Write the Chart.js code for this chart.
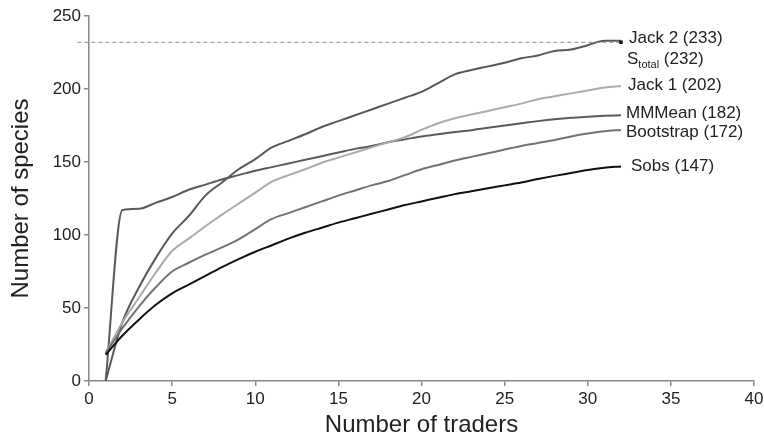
<!DOCTYPE html>
<html><head><meta charset="utf-8">
<script src="https://cdn.jsdelivr.net/npm/chart.js@4"></script>
<style>html,body{margin:0;padding:0;background:#fff}#wrap{width:764px;height:445px}</style>
</head><body><div id="wrap"><canvas id="c" width="764" height="445"></canvas></div>
<script>
// ---- data ----
const traders = [1,2,3,4,5,6,7,8,9,10,11,12,13,14,15,16,17,18,19,20,21,22,23,24,25,26,27,28,29,30,31,32];
const sobs = [18,31,42,52,60,66,72,78,83.5,88.5,93,97.5,101.5,105,108.5,111.5,114.5,117.5,120.5,123,125.5,128,130,132,134,136,138.3,140.5,142.5,144.5,146,147];
const bootstrap = [19,36,51,64,75,81,86.5,91.5,97,104,111,115,119,123,127,130.5,134,137,141,145,148,151,153.5,156,158.5,161,163,165,167.5,169.5,171,172];
const jack1 = [19,40,57,74,89,97.5,106,114,121.5,129,136.5,141,145,149.5,153,156.5,160,163.5,167,172,176.5,180,182.5,185,187.5,190,193,195,197,199,201,202];
const jack2 = [0,40,64,84,101,113,127,136,145,152,160,164.5,169,174,178,182,186,190,194,198,204,210,213,215.5,218,221,223,226,227,230,233,233];
const mmmean = [0,117,118,122,126,131,134.5,138,141,144,146.5,149,151.5,154,156.5,159,161,163.5,165.5,167.5,169,170.5,171.8,173.5,175,176.5,178,179.3,180.3,181,181.6,182];
const sTotal = 232;
const xTicks = [0,5,10,15,20,25,30,35,40];
const yTicks = [0,50,100,150,200,250];
const labels = ['Jack 2 (233)','S|total| (232)','Jack 1 (202)','MMMean (182)','Bootstrap (172)','Sobs (147)'];

const FONT = '"Liberation Sans", Arial, sans-serif';
const pts = arr => arr.map((v,i)=>({x:traders[i], y:v}));
const lastX = traders[traders.length-1];

const labelPlugin = {
  id:'endLabels',
  afterDatasetsDraw(chart){
    const {ctx, scales:{x,y}} = chart;
    const bx = x.getPixelForValue(lastX);
    const spots = [
      {t:labels[0], v:jack2[jack2.length-1]+2, dx:8},
      {t:labels[1], v:sTotal-12, dx:6},
      {t:labels[2], v:jack1[jack1.length-1]+0.5, dx:7},
      {t:labels[3], v:mmmean[mmmean.length-1]+1.5, dx:5},
      {t:labels[4], v:bootstrap[bootstrap.length-1]-1.5, dx:5},
      {t:labels[5], v:sobs[sobs.length-1], dx:10}
    ];
    ctx.save();
    ctx.fillStyle = '#222';
    ctx.textBaseline = 'middle';
    ctx.textAlign = 'left';
    spots.forEach(s=>{
      let px = bx + s.dx, py = y.getPixelForValue(s.v);
      const parts = s.t.split('|');
      if(parts.length===3){
        ctx.font = '17px '+FONT; ctx.fillText(parts[0], px, py); px += ctx.measureText(parts[0]).width;
        ctx.font = '11px '+FONT; ctx.fillText(parts[1], px, py+5); px += ctx.measureText(parts[1]).width;
        ctx.font = '17px '+FONT; ctx.fillText(parts[2], px, py);
      } else {
        ctx.font = '17px '+FONT; ctx.fillText(s.t, px, py);
      }
    });
    ctx.restore();
  }
};

const line = (data, color, w) => ({data:pts(data), borderColor:color, borderWidth:w, pointRadius:0, fill:false, cubicInterpolationMode:'monotone', tension:0.4});

new Chart(document.getElementById('c'), {
  type:'line',
  data:{datasets:[
    {data:[{x:-0.7,y:sTotal},{x:lastX,y:sTotal}], borderColor:'#8a8a8a', borderWidth:1, borderDash:[4,3], clip:false,
     pointRadius:[0,2.5], pointStyle:'rect', pointBackgroundColor:'#111', pointBorderColor:'#111', pointBorderWidth:0},
    line(sobs,'#111',2),
    line(bootstrap,'#727272',2),
    line(jack1,'#ababab',2),
    line(mmmean,'#5a5a5a',2),
    line(jack2,'#585858',2)
  ]},
  options:{
    responsive:false, animation:false, devicePixelRatio:1,
    layout:{padding:{top:16,right:10,left:0,bottom:0}},
    plugins:{legend:{display:false}, tooltip:{enabled:false}},
    scales:{
      x:{type:'linear', min:0, max:40,
        afterBuildTicks(s){ s.ticks = xTicks.map(v=>({value:v})); },
        afterFit(s){ s.height = 64; s.paddingRight = 0; s.paddingLeft = 0; },
        ticks:{color:'#222', font:{size:17, family:FONT}, padding:3, maxRotation:0},
        grid:{display:true, drawOnChartArea:false, drawTicks:true, tickLength:5, color:'#888', lineWidth:1.5},
        border:{color:'#888', width:1.5},
        title:{display:true, text:'Number of traders', color:'#222', font:{size:24, family:FONT}, padding:{top:2,bottom:5}}
      },
      y:{type:'linear', min:0, max:250,
        afterBuildTicks(s){ s.ticks = yTicks.map(v=>({value:v})); },
        afterFit(s){ s.width = 89; s.paddingTop = 0; s.paddingBottom = 0; },
        ticks:{color:'#222', font:{size:17, family:FONT}, padding:3},
        grid:{display:true, drawOnChartArea:false, drawTicks:true, tickLength:5, color:'#888', lineWidth:1.5},
        border:{color:'#888', width:1.5},
        title:{display:true, text:'Number of species', color:'#222', font:{size:24, family:FONT}, padding:{top:7,bottom:2}}
      }
    }
  },
  plugins:[labelPlugin]
});
</script></body></html>
